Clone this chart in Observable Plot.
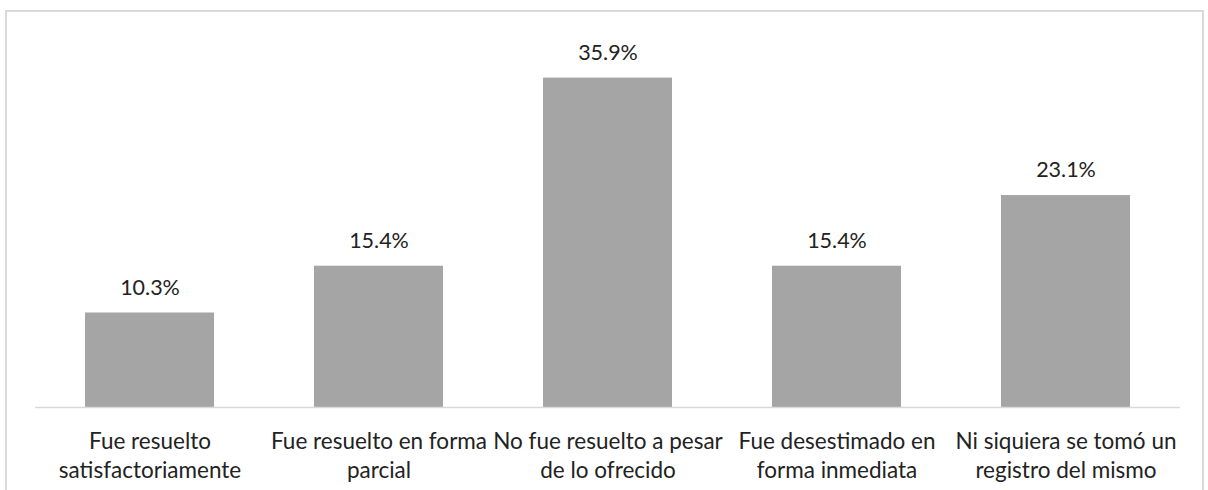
<!DOCTYPE html>
<html>
<head>
<meta charset="utf-8">
<script src="https://cdn.jsdelivr.net/npm/d3@7"></script>
<script src="https://cdn.jsdelivr.net/npm/@observablehq/plot@0.6"></script>
<style>
  html, body { margin: 0; padding: 0; background: #fff; overflow: hidden; }
  #wrap { position: relative; width: 1208px; height: 490px; }
  #border { position: absolute; left: 5px; top: 10px; width: 1199px; height: 600px; border: 2px solid #d9d9d9; box-sizing: border-box; pointer-events: none; }
  svg { position: absolute; left: 0; top: 0; }
</style>
</head>
<body>
<div id="wrap"><div id="border"></div></div>
<script>
const categories = [
  "Fue resuelto\nsatisfactoriamente",
  "Fue resuelto en forma\nparcial",
  "No fue resuelto a pesar\nde lo ofrecido",
  "Fue desestimado en\nforma inmediata",
  "Ni siquiera se tomó un\nregistro del mismo"
];
const values = [10.3, 15.4, 35.9, 15.4, 23.1];
const valueLabels = ["10.3%", "15.4%", "35.9%", "15.4%", "23.1%"];

const data = categories.map((c, i) => ({cat: c, v: values[i], lab: valueLabels[i]}));
const font = "Lato, 'Open Sans', sans-serif";

const chart = Plot.plot({
  width: 1208,
  height: 490,
  marginLeft: 35,
  marginRight: 28,
  marginTop: 40,
  marginBottom: 83,
  style: {fontFamily: font, background: "transparent"},
  x: {domain: categories, paddingInner: 0.437, paddingOuter: 0.2185, label: null},
  y: {domain: [0, 40], axis: null},
  marks: [
    Plot.barY(data, {x: "cat", y: "v", fill: "#a5a5a5"}),
    Plot.ruleY([0], {stroke: "#d9d9d9", strokeWidth: 1.5}),
    Plot.text(data, {x: "cat", y: "v", text: "lab", dy: -25, fontSize: 21.5, fill: "#222", fontFamily: font}),
    Plot.axisX({tickSize: 0, tickPadding: 21, fontSize: 22.5, lineHeight: 1.28, fill: "#222", label: null, textOverflow: null})
  ]
});
document.getElementById("wrap").appendChild(chart);
</script>
</body>
</html>
